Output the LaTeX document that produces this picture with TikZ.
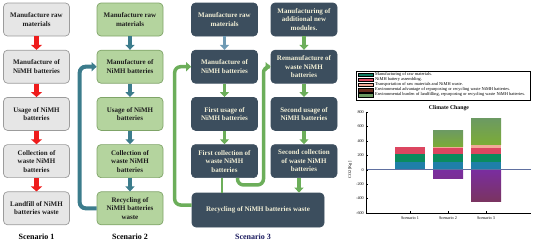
\documentclass[tikz,border=0pt]{standalone}
\usepackage{fontspec}
\setmainfont{Liberation Serif}
\usetikzlibrary{arrows.meta, positioning}
\definecolor{cgreyfill}{HTML}{E6E6E6}
\definecolor{cgreyline}{HTML}{9C9C9C}
\definecolor{cgreenfill}{HTML}{B4D49E}
\definecolor{cgreenline}{HTML}{7FA468}
\definecolor{cslate}{HTML}{3C4E5E}
\definecolor{ccream}{HTML}{F2EFD6}
\definecolor{ctext}{HTML}{1E1E1E}
\definecolor{cred}{HTML}{EE1C1C}
\definecolor{cteal}{HTML}{3C7C8C}
\definecolor{cgreen}{HTML}{6CAE5A}
\definecolor{csteel}{HTML}{6E9AB4}
\definecolor{cnavy}{HTML}{1A1A5E}
\definecolor{cbblue}{HTML}{1F7FA8}
\definecolor{cbgreen}{HTML}{0B8B5E}
\definecolor{cbred}{HTML}{DC4660}
\definecolor{cbpink}{HTML}{F2AA98}
\definecolor{cbolive}{HTML}{7CAC36}
\definecolor{cbsage}{HTML}{6C9A62}
\definecolor{cbpurple}{HTML}{7A2DA0}
\definecolor{cbmaroon}{HTML}{7A3460}
\definecolor{cbteal}{HTML}{107A60}
\definecolor{cbbrown}{HTML}{6B2E1E}
\definecolor{czero}{HTML}{6070A0}
\tikzset{
  every picture/.style={x=1pt, y=-1pt},
  box/.style={rounded corners=4pt, minimum width=66pt, minimum height=33pt, inner sep=1pt, align=center, line width=0.7pt, font=\bfseries\fontsize{7}{8.5}\selectfont},
  boxone/.style={box, draw=cgreyline, fill=cgreyfill, text=ctext},
  boxtwo/.style={box, draw=cgreenline, fill=cgreenfill, text=ctext},
  boxthree/.style={box, draw=cslate, fill=cslate, text=ccream},
  redarrow/.style={-{Triangle[length=5pt,width=11pt]}, draw=cred, line width=5pt},
  tealarrow/.style={-{Triangle[length=5pt,width=9pt]}, draw=cteal, line width=4pt},
  greenarrow/.style={-{Triangle[length=5pt,width=9pt]}, draw=cgreen, line width=3.5pt},
  backflow/.style={rounded corners=6pt},
  scen/.style={font=\bfseries\fontsize{8}{9}\selectfont},
  legtext/.style={font=\fontsize{4.4}{5}\selectfont, anchor=west, inner sep=0pt},
  ticklab/.style={font=\fontsize{4.2}{5}\selectfont, inner sep=1pt},
}
\begin{document}
\begin{tikzpicture}[node distance=13.5pt]
  \useasboundingbox (0,0) rectangle (550,244);
  % scenario 1
  \node[boxone] (s1a) at (36.5,19.5) {Manufacture raw\\materials};
  \node[boxone, below=of s1a] (s1b) {Manufacture of\\NiMH batteries};
  \node[boxone, below=of s1b] (s1c) {Usage of NiMH\\batteries};
  \node[boxone, below=of s1c] (s1d) {Collection of\\waste NiMH\\batteries};
  \node[boxone, below=of s1d] (s1e) {Landfill of NiMH\\batteries waste};
  \draw[redarrow] (s1a) -- (s1b);
  \draw[redarrow] (s1b) -- (s1c);
  \draw[redarrow] (s1c) -- (s1d);
  \draw[redarrow] (s1d) -- (s1e);
  \node[scen] (lab1) at (36.5,237) {Scenario 1};
  % scenario 2
  \node[boxtwo] (s2a) at (130,19.5) {Manufacture raw\\materials};
  \node[boxtwo, below=of s2a] (s2b) {Manufacture of\\NiMH batteries};
  \node[boxtwo, below=of s2b] (s2c) {Usage of NiMH\\batteries};
  \node[boxtwo, below=of s2c] (s2d) {Collection of\\waste NiMH\\batteries};
  \node[boxtwo, below=of s2d] (s2e) {Recycling of\\NiMH batteries\\waste};
  \draw[tealarrow] (s2a) -- (s2b);
  \draw[tealarrow] (s2b) -- (s2c);
  \draw[tealarrow] (s2c) -- (s2d);
  \draw[tealarrow] (s2d) -- (s2e);
  \draw[tealarrow, backflow] (s2e.west) -- ++(-17,0) |- (s2b.west);
  \node[scen] (lab2) at (130,237) {Scenario 2};
  % scenario 3
  \node[boxthree] (s3a) at (224.5,19.5) {Manufacture raw\\materials};
  \node[boxthree, below=of s3a] (s3b) {Manufacture of\\NiMH batteries};
  \node[boxthree, below=of s3b] (s3c) {First usage of\\NiMH batteries};
  \node[boxthree, below=of s3c] (s3d) {First collection of\\waste NiMH\\batteries};
  \node[boxthree] (t3a) at (304,19.5) {Manufacturing of\\additional new\\modules.};
  \node[boxthree, below=of t3a] (t3b) {Remanufacture of\\waste NiMH\\batteries};
  \node[boxthree, below=of t3b] (t3c) {Second usage of\\NiMH batteries};
  \node[boxthree, below=of t3c] (t3d) {Second collection\\of waste NiMH\\batteries};
  \node[boxthree, minimum width=132pt, minimum height=34pt] (rec) at (258,210) {Recycling of NiMH batteries waste};
  \draw[greenarrow, draw=csteel] (s3a) -- (s3b);
  \draw[greenarrow] (s3b) -- (s3c);
  \draw[greenarrow] (s3c) -- (s3d);
  \draw[greenarrow] (t3a) -- (t3b);
  \draw[greenarrow] (t3b) -- (t3c);
  \draw[greenarrow] (t3c) -- (t3d);
  \draw[greenarrow] ([xshift=-5pt]t3d.south) -- ([xshift=-5pt]t3d.south |- rec.north);
  \draw[draw=cgreen, line width=2pt] ([xshift=-2.5pt]s3d.south) -- ([xshift=-2.5pt]s3d.south |- rec.north);
  \draw[greenarrow, backflow] ([xshift=13pt]s3d.south) -- ++(0,7) -- ++(26,0) |- (t3b.west);
  \draw[greenarrow, backflow] ([yshift=5pt]rec.west) -- ++(-17,0) |- (s3b.west);
  \node[scen, text=cnavy] (lab3) at (253,237) {Scenario 3};
  % chart
  \draw[line width=0.4pt] (356,71) rectangle (530,100);
  \foreach \col/\txt [count=\i] in {cbteal/{Manufacturing of raw materials.},
      cbred/{NiMH battery assembling.},
      cbpink/{Transportation of raw materials and NiMH waste.},
      cbbrown/{Environmental advantage of repurposing or recycling waste NiMH batteries.},
      cbsage/{Environmental burden of landfilling, repurposing or recycling waste NiMH batteries.}}{
    \fill[\col, draw=black, line width=0.3pt] (358,72.9+5.05*\i-5.05) rectangle (373,76.5+5.05*\i-5.05);
    \node[legtext] (leg\i) at (375,74.7+5.05*\i-5.05) {\txt};
  }
  \node[font=\bfseries\fontsize{5.8}{7}\selectfont] (title) at (449,108.5) {Climate Change};
  \node[ticklab, rotate=90] (ylab) at (350,170) {CO2 [Kg]};
  \begin{scope}[shift={(0,169.7)}, y=0.0722pt]
    \foreach \xl/\lo/\hi/\col in {395/0/100/cbblue, 395/100/215/cbgreen, 395/215/310/cbred,
        433/0/100/cbblue, 433/100/215/cbgreen, 433/215/300/cbred, 433/300/320/cbpink,
        471/0/100/cbblue, 471/100/215/cbgreen, 471/215/300/cbred, 471/300/345/cbpink}
      \fill[\col] (\xl,\lo) rectangle (\xl+30,\hi);
    \shade[bottom color=cbolive, top color=cbsage] (433,320) rectangle (463,545);
    \shade[bottom color=cbolive, top color=cbsage] (471,345) rectangle (501,708);
    \shade[top color=cbpurple, bottom color=cbpurple!80!cbmaroon] (433,0) rectangle (463,-124);
    \shade[top color=cbpurple, bottom color=cbmaroon] (471,0) rectangle (501,-438);
    \draw[czero, line width=0.5pt] (366,0) -- (531,0);
    \draw[line width=0.4pt] (366,800) -- (366,-600) -- (531,-600);
    \foreach \v [count=\i] in {800,600,...,-600}{
      \draw[line width=0.3pt] (366,\v) -- ++(2,0);
      \node[ticklab, anchor=east] (ytick\i) at (365,\v) {\v};
    }
    \foreach \xc [count=\i] in {410,448,486}{
      \draw[line width=0.3pt] (\xc,-600) -- ++(0,30);
      \node[ticklab, anchor=north] (xtick\i) at (\xc,-640) {Scenario \i};
    }
  \end{scope}
\end{tikzpicture}
\end{document}
